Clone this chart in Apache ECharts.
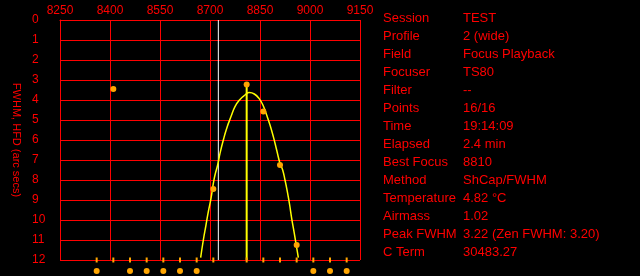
<!DOCTYPE html>
<html>
<head>
<meta charset="utf-8">
<script src="https://cdn.jsdelivr.net/npm/echarts@6/dist/echarts.min.js"></script>
<style>
  html, body { margin: 0; padding: 0; background: #000; }
  #chart { width: 640px; height: 276px; }
</style>
</head>
<body>
<div id="chart"></div>
<script>
// focus samples inside the plot (position, FWHM)
const samplePoints = [
  [8410, 3.45], [8710, 8.45], [8810, 3.22], [8860, 4.58], [8910, 7.25], [8960, 11.25]
]
// samples off the scale, shown under the plot
const offScalePositions = [8360, 8460, 8510, 8560, 8610, 8660, 9010, 9060, 9110]
// every focuser position visited
const tickPositions = [8360, 8410, 8460, 8510, 8560, 8610, 8660, 8710, 8810, 8860, 8910, 8960, 9010, 9060, 9110]
// fitted curve
const fitCurve = [
  [8672, 11.88], [8680, 11.0], [8688, 10.25], [8695, 9.58], [8703, 8.92], [8710, 8.17],
  [8715, 7.75], [8723, 7.25], [8730, 6.67], [8740, 6.0], [8750, 5.42], [8763, 4.83],
  [8775, 4.33], [8790, 3.97], [8805, 3.75], [8818, 3.63], [8833, 3.7], [8847, 3.92],
  [8860, 4.3], [8870, 4.75], [8880, 5.25], [8890, 5.83], [8900, 6.5], [8910, 7.17],
  [8918, 7.5], [8925, 8.0], [8932, 8.58], [8939, 9.25], [8945, 9.92], [8952, 10.58],
  [8957, 11.08], [8962, 11.58], [8965, 11.88]
]
const bestFocus = 8810
const peakFwhm = 3.22
const startPosition = 8725

const infoLabels = ['Session', 'Profile', 'Field', 'Focuser', 'Filter', 'Points', 'Time',
  'Elapsed', 'Best Focus', 'Method', 'Temperature', 'Airmass', 'Peak FWHM', 'C Term']
const infoValues = ['TEST', '2 (wide)', 'Focus Playback', 'TS80', '--', '16/16', '19:14:09',
  '2.4 min', '8810', 'ShCap/FWHM', '4.82 °C', '1.02', '3.22 (Zen FWHM: 3.20)', '30483.27']

const red = '#ff0000'
const orange = '#ffa500'
const font = 'Arial, "Liberation Sans", sans-serif'

const chart = echarts.init(document.getElementById('chart'))

const graphics = []
infoLabels.forEach((label, i) => {
  const y = 18 + i * 18
  graphics.push({
    type: 'text', left: 383, top: y - 6,
    style: { text: label, fill: red, font: '13px ' + font }
  })
  graphics.push({
    type: 'text', left: 463, top: y - 6,
    style: { text: infoValues[i], fill: red, font: '13px ' + font }
  })
})

chart.setOption({
  backgroundColor: '#000',
  animation: false,
  grid: { left: 60, right: 280, top: 20, bottom: 16 },
  xAxis: {
    type: 'value',
    position: 'top',
    min: 8250,
    max: 9150,
    interval: 150,
    axisLine: { lineStyle: { color: red } },
    axisTick: { show: false },
    axisLabel: { color: red, fontSize: 12, fontFamily: font, margin: 3, formatter: v => String(v) },
    splitLine: { lineStyle: { color: red, width: 1 } }
  },
  yAxis: {
    type: 'value',
    inverse: true,
    min: 0,
    max: 12,
    interval: 1,
    name: 'FWHM, HFD (arc secs)',
    nameLocation: 'middle',
    nameRotate: -90,
    nameGap: 38,
    nameTextStyle: { color: red, fontSize: 11, fontFamily: font },
    axisLine: { lineStyle: { color: red } },
    axisTick: { show: false },
    axisLabel: { color: red, fontSize: 12, fontFamily: font, align: 'left', margin: 28 },
    splitLine: { lineStyle: { color: red, width: 1 } }
  },
  graphic: graphics,
  series: [
    {
      type: 'line',
      data: [[startPosition, 0], [startPosition, 12]],
      symbol: 'none',
      lineStyle: { color: '#ffffff', width: 1 },
      z: 3
    },
    {
      type: 'line',
      data: [[bestFocus, peakFwhm], [bestFocus, 12]],
      symbol: 'none',
      lineStyle: { color: '#ffff00', width: 2 },
      z: 3
    },
    {
      type: 'line',
      data: fitCurve,
      smooth: true,
      symbol: 'none',
      lineStyle: { color: '#ffff00', width: 1.5 },
      z: 4
    },
    {
      type: 'scatter',
      data: tickPositions.map(x => [x, 12]),
      symbol: 'rect',
      symbolSize: [2, 5],
      itemStyle: { color: orange, opacity: 1 },
      clip: false,
      z: 5
    },
    {
      type: 'scatter',
      data: offScalePositions.map(x => [x, 12.55]),
      symbolSize: 6,
      itemStyle: { color: orange, opacity: 1 },
      clip: false,
      z: 5
    },
    {
      type: 'scatter',
      data: samplePoints,
      symbolSize: 6,
      itemStyle: { color: orange, opacity: 1 },
      z: 6
    }
  ]
})
</script>
</body>
</html>
